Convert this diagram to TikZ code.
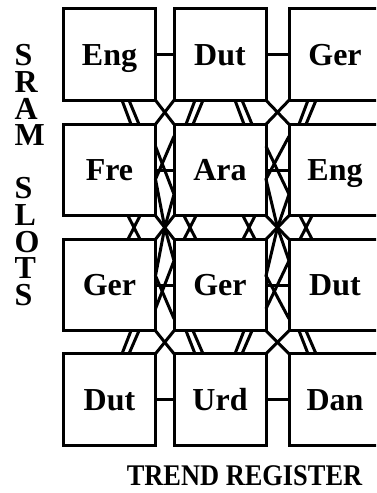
\documentclass[tikz,border=0pt]{standalone}
\usepackage{fontspec}
\setmainfont{Liberation Serif}
\usetikzlibrary{calc}

\tikzset{
  slot/.style={draw, minimum width=46pt, minimum height=45.75pt, inner sep=0pt,
    outer sep=0pt, text height=10.5pt, text depth=0pt,
    font=\fontsize{16}{19}\selectfont\bfseries},
  side/.style={anchor=north west, inner sep=0pt, align=left,
    font=\fontsize{16}{13.33}\selectfont\bfseries},
  title/.style={anchor=base, inner sep=0pt, xscale=0.88,
    font=\fontsize{15}{18}\selectfont\bfseries}
}

\begin{document}
\begin{tikzpicture}[x=0.5pt, y=-0.5pt, line width=1.5pt]
    \clip (0,0) rectangle (376,493);
    \fill[white] (0,0) rectangle (376,493);
    % slots
    \node[slot] (b11) at (109.5,54.5) {Eng};
    \node[slot] (b12) at (220,54.5) {Dut};
    \node[slot] (b13) at (335,54.5) {Ger};
    \node[slot] (b21) at (109.5,170) {Fre};
    \node[slot] (b22) at (220,170) {Ara};
    \node[slot] (b23) at (335,170) {Eng};
    \node[slot] (b31) at (109.5,285) {Ger};
    \node[slot] (b32) at (220,285) {Ger};
    \node[slot] (b33) at (335,285) {Dut};
    \node[slot] (b41) at (109.5,399.5) {Dut};
    \node[slot] (b42) at (220,399.5) {Urd};
    \node[slot] (b43) at (335,399.5) {Dan};
    % row links
    \foreach \r in {1,...,4} {
        \draw (b\r1.east) -- (b\r2.west);
        \draw (b\r2.east) -- (b\r3.west);
    }
    % corner crossings
    \foreach \r/\s in {1/2,2/3,3/4}
        \foreach \c/\d in {1/2,2/3} {
            \draw (b\r\c.south east) -- (b\s\d.north west);
            \draw (b\r\d.south west) -- (b\s\c.north east);
        }
    % long wires into the middle crossings
    \foreach \c/\d in {1/2,2/3} {
        \coordinate (m\c) at ($(b2\c.south east)!0.5!(b3\d.north west)$);
        \draw ($(b2\d.north west)+(0,12)$) -- ($(b2\c.north east)+(0,55)$) -- (m\c);
        \draw ($(b2\c.north east)+(0,22)$) -- ($(b2\d.north west)+(0,70)$) -- (m\c);
        \draw ($(b3\d.south west)+(0,-12)$) -- ($(b3\c.south east)+(0,-55)$) -- (m\c);
        \draw ($(b3\c.south east)+(0,-22)$) -- ($(b3\d.south west)+(0,-70)$) -- (m\c);
    }
    % slanted pairs between rows
    \foreach \tx/\bx in {122/131,129/139,195/186,203/193,235/244,242/252,308/299,316/306}
        \draw (\tx,0 |- b11.south) -- (\bx,0 |- b21.north);
    \foreach \tx/\bx in {128/140,140/128,184/196,196/184,243/255,255/243,300/312,312/300}
        \draw (\tx,0 |- b21.south) -- (\bx,0 |- b31.north);
    \foreach \tx/\bx in {131/122,139/129,186/195,193/203,244/235,252/242,299/308,306/316}
        \draw (\tx,0 |- b31.south) -- (\bx,0 |- b41.north);
    % labels
    \node[side] (slots) at (13,43) {S\\R\\A\\M\\[13.33pt]S\\L\\O\\T\\S};
    \node[title] (trend) at (244.5,485) {TREND REGISTER};
\end{tikzpicture}
\end{document}
